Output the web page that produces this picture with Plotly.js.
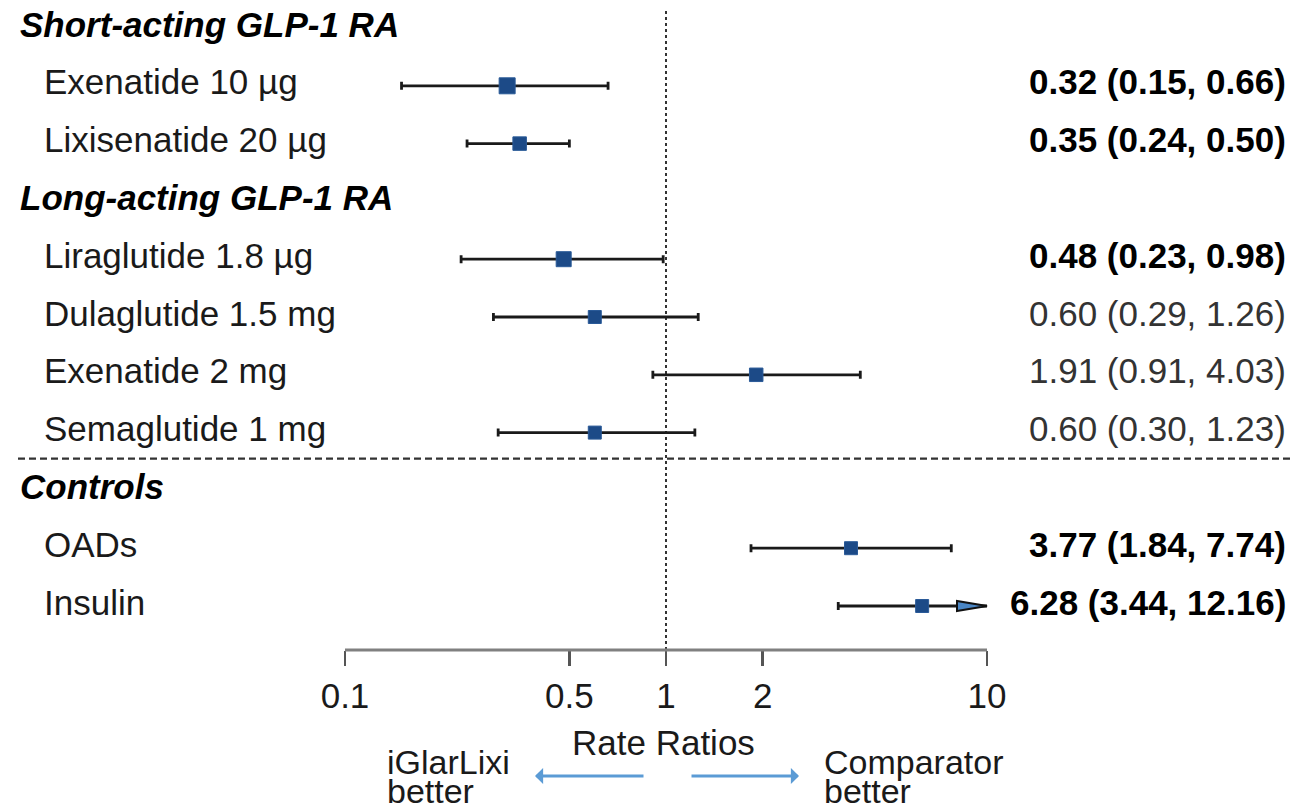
<!DOCTYPE html>
<html><head><meta charset="utf-8">
<script src="https://cdn.plot.ly/plotly-3.0.1.min.js"></script>
<style>html,body{margin:0;padding:0;background:#fff}</style>
</head><body><div id="chart" style="width:1304px;height:809px"></div>
<script>
// ---- data ----
const groups = ["Short-acting GLP-1 RA", "Long-acting GLP-1 RA", "Controls"];
const groupRow = [0, 3, 8];
const labels = ["Exenatide 10 µg", "Lixisenatide 20 µg", "Liraglutide 1.8 µg", "Dulaglutide 1.5 mg",
                "Exenatide 2 mg", "Semaglutide 1 mg", "OADs", "Insulin"];
const itemRow = [1, 2, 4, 5, 6, 7, 9, 10];
const estimate = [0.32, 0.35, 0.48, 0.60, 1.91, 0.60, 3.77, 6.28];
const lower    = [0.15, 0.24, 0.23, 0.29, 0.91, 0.30, 1.84, 3.44];
const upper    = [0.66, 0.50, 0.98, 1.26, 4.03, 1.23, 7.74, 12.16];
const significant = [true, true, true, false, false, false, true, true];
const markerSize = [16, 13.5, 15, 13, 13.5, 13, 13, 13];
const tickVals = [0.1, 0.5, 1, 2, 10];
const tickText = ["0.1", "0.5", "1", "2", "10"];
const AXIS_MIN = 0.1, AXIS_MAX = 10;

// ---- layout geometry ----
const W = 1304, H = 809;
const plotBottom = 650;            // pixel y of the axis line
const rowTop = 28, rowStep = 57.8;  // pixel y of row 0, pixel per row
const xMinPx = 345, xMaxPx = 987;  // pixels of AXIS_MIN / AXIS_MAX
const pxPerDec = (xMaxPx - xMinPx) / (Math.log10(AXIS_MAX) - Math.log10(AXIS_MIN));
const xRange = [Math.log10(AXIS_MIN) - xMinPx / pxPerDec, Math.log10(AXIS_MAX) + (W - xMaxPx) / pxPerDec];
const yRange = [ (plotBottom - rowTop) / rowStep, -rowTop / rowStep ];
const py = p => (plotBottom - p) / plotBottom;  // pixel -> paper y
const px = p => p / W;                          // pixel -> paper x

const FONT = "Liberation Sans, Arial, Helvetica, sans-serif";
const TXT = "#1a1a1a";
const MARK = "#1C4A87";

const plus = [], minus = [];
estimate.forEach((e, i) => {
  minus.push(e - lower[i]);
  plus.push(upper[i] > AXIS_MAX ? 0 : upper[i] - e);
});

const traces = [];
// truncated CI segments (to axis max)
estimate.forEach((e, i) => {
  if (upper[i] > AXIS_MAX) {
    traces.push({type: "scatter", mode: "lines", x: [e, AXIS_MAX], y: [itemRow[i], itemRow[i]],
      line: {color: "#1a1a1a", width: 2.8}, hoverinfo: "skip"});
  }
});
traces.push({
  type: "scatter", mode: "markers", x: estimate, y: itemRow, opacity: 1,
  marker: {symbol: "square", size: markerSize, color: MARK, opacity: 1, line: {color: "#2a5a98", width: 1}},
  error_x: {type: "data", symmetric: false, array: plus, arrayminus: minus,
            color: "#1a1a1a", thickness: 2.8, width: 4},
  hoverinfo: "skip"
});

const annotations = [];
groups.forEach((g, i) => annotations.push({
  xref: "paper", yref: "y", x: px(18), y: groupRow[i], xanchor: "left", yanchor: "middle", yshift: 4,
  text: "<b><i>" + g + "</i></b>", showarrow: false, font: {family: FONT, size: 35, color: "#000"}
}));
labels.forEach((l, i) => {
  annotations.push({
    xref: "paper", yref: "y", x: px(42), y: itemRow[i], xanchor: "left", yanchor: "middle", yshift: 4,
    text: l, showarrow: false, font: {family: FONT, size: 35, color: TXT}
  });
  const s = estimate[i].toFixed(2) + " (" + lower[i].toFixed(2) + ", " + upper[i].toFixed(2) + ")";
  annotations.push({
    xref: "paper", yref: "y", x: px(1288), y: itemRow[i], xanchor: "right", yanchor: "middle", yshift: 4,
    text: significant[i] ? "<b>" + s + "</b>" : s, showarrow: false,
    font: {family: FONT, size: 35, color: significant[i] ? "#000" : "#333"}
  });
});
// bottom texts
annotations.push({xref: "paper", yref: "paper", x: px(664), y: py(742), xanchor: "center", yanchor: "middle",
  text: "Rate Ratios", showarrow: false, font: {family: FONT, size: 35, color: TXT}});
[["iGlarLixi", 385, 762], ["better", 385, 791], ["Comparator", 822, 762], ["better", 822, 791]].forEach(t =>
  annotations.push({xref: "paper", yref: "paper", x: px(t[1]), y: py(t[2]), xanchor: "left", yanchor: "middle",
    text: t[0], showarrow: false, font: {family: FONT, size: 34, color: TXT}}));
// direction arrows
annotations.push({xref: "paper", yref: "paper", x: px(535), y: py(776), ax: 110, ay: 0, text: "",
  showarrow: true, arrowhead: 1, arrowsize: 0.9, arrowwidth: 3, arrowcolor: "#5B9BD5", standoff: 0});
annotations.push({xref: "paper", yref: "paper", x: px(799), y: py(776), ax: -109, ay: 0, text: "",
  showarrow: true, arrowhead: 1, arrowsize: 0.9, arrowwidth: 3, arrowcolor: "#5B9BD5", standoff: 0});

const shapes = [
  {type: "line", xref: "x", yref: "paper", x0: 1, x1: 1, y0: 0, y1: py(10),
   line: {color: "#333", width: 2, dash: "dot"}, layer: "below"},
  {type: "line", xref: "paper", yref: "y", x0: px(18), x1: px(1290), y0: 7.45, y1: 7.45,
   line: {color: "#333", width: 2.2, dash: "7px,4px"}},
  {type: "line", xref: "x", yref: "paper", x0: AXIS_MIN, x1: AXIS_MAX, y0: 0, y1: 0,
   line: {color: "#808080", width: 3}}
];
estimate.forEach((e, i) => {
  if (upper[i] > AXIS_MAX) {
    shapes.push({type: "path", xref: "x", yref: "y", xsizemode: "pixel", ysizemode: "pixel",
      xanchor: AXIS_MAX, yanchor: itemRow[i], path: "M -30,-5 L 0,0 L -30,5 Z",
      fillcolor: "#4A86C5", line: {color: "#111", width: 2}});
  }
});

const layout = {
  width: W, height: H, margin: {l: 0, r: 0, t: 0, b: H - plotBottom},
  paper_bgcolor: "#fff", plot_bgcolor: "#fff", showlegend: false, hovermode: false,
  xaxis: {type: "log", range: xRange, tickvals: tickVals, ticktext: tickText, ticks: "outside",
          ticklen: 15, tickwidth: 2.5, tickcolor: "#555", showline: false, showgrid: false, zeroline: false,
          tickfont: {family: FONT, size: 35, color: TXT}, fixedrange: true},
  yaxis: {range: yRange, visible: false, showgrid: false, zeroline: false, fixedrange: true},
  annotations: annotations, shapes: shapes
};
Plotly.newPlot("chart", traces, layout, {displayModeBar: false, staticPlot: true});
</script></body></html>
